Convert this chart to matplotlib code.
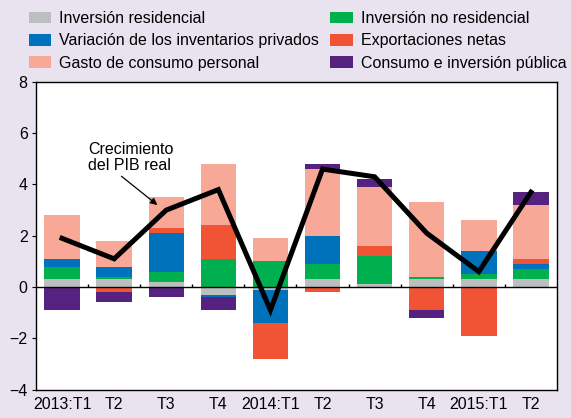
import matplotlib
matplotlib.use("Agg")
import matplotlib.pyplot as plt
import numpy as np

plt.rcParams['font.family'] = ['Liberation Sans', 'DejaVu Sans']

# datos (puntos porcentuales)
trimestres = ["2013:T1", "T2", "T3", "T4", "2014:T1", "T2", "T3", "T4", "2015:T1", "T2"]
residencial = [0.3, 0.3, 0.2, -0.3, -0.1, 0.3, 0.1, 0.3, 0.3, 0.3]
no_residencial = [0.5, 0.1, 0.4, 1.1, 1.0, 0.6, 1.1, 0.1, 0.2, 0.4]
inventarios = [0.3, 0.4, 1.5, -0.1, -1.3, 1.1, 0.0, 0.0, 0.9, 0.2]
exportaciones = [0.0, -0.2, 0.2, 1.3, -1.4, -0.2, 0.4, -0.9, -1.9, 0.2]
consumo = [1.7, 1.0, 1.2, 2.4, 0.9, 2.6, 2.3, 2.9, 1.2, 2.1]
publico = [-0.9, -0.4, -0.4, -0.5, 0.0, 0.2, 0.3, -0.3, 0.0, 0.5]
pib = [1.9, 1.1, 3.0, 3.8, -0.9, 4.6, 4.3, 2.1, 0.6, 3.7]

series = [
    ("Inversión residencial", residencial, "#bdbec0"),
    ("Inversión no residencial", no_residencial, "#00b04f"),
    ("Variación de los inventarios privados", inventarios, "#0072bc"),
    ("Exportaciones netas", exportaciones, "#f05434"),
    ("Gasto de consumo personal", consumo, "#f7a897"),
    ("Consumo e inversión pública", publico, "#55237f"),
]

fondo = "#e8e3ef"
fig = plt.figure(figsize=(5.71, 4.18), dpi=100, facecolor=fondo)
ax = fig.add_axes([0.063, 0.068, 0.9125, 0.736])

x = np.arange(len(trimestres))
pos_base = np.zeros(len(x))
neg_base = np.zeros(len(x))
handles = {}
for nombre, vals, color in series:
    v = np.array(vals)
    base = np.where(v >= 0, pos_base, neg_base)
    b = ax.bar(x, v, 0.68, bottom=base, color=color, linewidth=0, label=nombre)
    handles[nombre] = b
    pos_base += np.where(v >= 0, v, 0)
    neg_base += np.where(v < 0, v, 0)

ax.axhline(0, color="black", linewidth=1.0)
# marcas entre trimestres sobre la linea de cero
ax.vlines(x[:-1] + 0.5, 0, 0.13, color="black", linewidth=1.0)

ax.plot(x, pib, color="black", linewidth=3.6, solid_joinstyle="miter", zorder=5)

ax.annotate("Crecimiento\ndel PIB real", xy=(1.83, 3.2), xytext=(0.5, 5.05),
            fontsize=11.5, ha="left", va="center", linespacing=1.15,
            arrowprops=dict(arrowstyle="-|>", color="black", lw=0.9,
                            shrinkA=0, shrinkB=0, mutation_scale=10,
                            relpos=(0.35, 0.0)))

ax.set_xlim(-0.5, 9.5)
ax.set_ylim(-4, 8)
ax.set_yticks([-4, -2, 0, 2, 4, 6, 8])
ax.set_xticks(x)
ax.set_xticklabels(trimestres)
ax.tick_params(axis="x", length=0, labelsize=11.5, pad=5)
ax.tick_params(axis="y", length=3, labelsize=11.5, pad=3, direction="out")
for s in ax.spines.values():
    s.set_linewidth(1.0)

orden = ["Inversión residencial", "Variación de los inventarios privados",
         "Gasto de consumo personal", "Inversión no residencial",
         "Exportaciones netas", "Consumo e inversión pública"]
fig.legend([handles[n] for n in orden], orden, ncol=2, loc="upper left",
           bbox_to_anchor=(0.031, 1.0), frameon=False, fontsize=11.5,
           handlelength=1.4, handleheight=0.75, handletextpad=0.5,
           columnspacing=0.7, labelspacing=0.45, borderaxespad=0.3)

fig.savefig("out.png", dpi=100, facecolor=fondo)
